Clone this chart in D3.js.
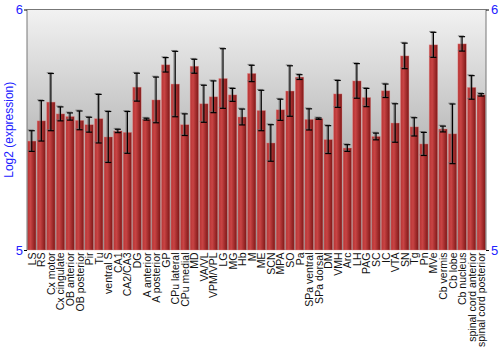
<!DOCTYPE html>
<html>
<head>
<meta charset="utf-8">
<script src="https://cdn.jsdelivr.net/npm/d3@7"></script>
<style>
body { margin: 0; background: #fff; }
svg { display: block; font-family: "Liberation Sans", Arial, sans-serif; }
</style>
</head>
<body>
<svg width="500" height="350"></svg>
<script>
// regions
var regions = ["LS", "RS", "Cx motor", "Cx cingulate", "OB anterior", "OB posterior", "Pir", "Tu",
  "ventral S", "CA1", "CA2/CA3", "DG", "A anterior", "A posterior", "GP", "CPu lateral",
  "CPu medial", "MD", "VA/VL", "VPM/VPL", "LG", "MG", "Hb", "M", "ME", "SCN", "MPA", "SO",
  "Pa", "SPa ventral", "SPa dorsal", "DM", "VMH", "Arc", "LH", "PAG", "SC", "IC", "VTA", "SN",
  "Tg", "Pn", "MVe", "Cb vermis", "Cb lobe", "Cb nucleus", "spinal cord anterior", "spinal cord posterior"];
// mean log2 expression
var values = [5.453, 5.537, 5.615, 5.566, 5.555, 5.539, 5.521, 5.546,
  5.470, 5.495, 5.489, 5.677, 5.544, 5.624, 5.770, 5.690,
  5.521, 5.764, 5.608, 5.637, 5.713, 5.645, 5.553, 5.734, 5.580, 5.445, 5.583, 5.661,
  5.719, 5.543, 5.546, 5.459, 5.649, 5.424, 5.703, 5.634, 5.472, 5.662, 5.528, 5.807,
  5.512, 5.441, 5.853, 5.503, 5.483, 5.857, 5.676, 5.645];
// error (half bar)
var errors = [0.043, 0.084, 0.119, 0.029, 0.015, 0.039, 0.031, 0.101,
  0.106, 0.007, 0.087, 0.058, 0.004, 0.095, 0.030, 0.136,
  0.045, 0.029, 0.077, 0.066, 0.124, 0.027, 0.033, 0.034, 0.084, 0.076, 0.044, 0.105,
  0.010, 0.044, 0.003, 0.058, 0.056, 0.014, 0.072, 0.038, 0.014, 0.028, 0.080, 0.053,
  0.038, 0.048, 0.052, 0.012, 0.124, 0.030, 0.049, 0.005];
var yTicks = [5, 6];

var pL = 27, pR = 486, pT = 9.5, pB = 250;

var xs = d3.scaleBand().domain(regions).range([pL, pR]).paddingInner(0.12).paddingOuter(0.06);
var ys = d3.scaleLinear().domain([5, 6]).range([pB, pT]);

var svg = d3.select('svg');
var defs = svg.append('defs');

var bg = defs.append('linearGradient').attr('id', 'bg').attr('x1', 0).attr('y1', 0).attr('x2', 0).attr('y2', 1);
bg.append('stop').attr('offset', '0%').attr('stop-color', '#f2f2f2');
bg.append('stop').attr('offset', '100%').attr('stop-color', '#8c8c8c');

var bar = defs.append('linearGradient').attr('id', 'bar').attr('x1', 0).attr('y1', 0).attr('x2', 1).attr('y2', 0);
bar.append('stop').attr('offset', '0%').attr('stop-color', '#b83434');
bar.append('stop').attr('offset', '35%').attr('stop-color', '#c84444');
bar.append('stop').attr('offset', '100%').attr('stop-color', '#7e1616');

svg.append('rect')
  .attr('x', pL).attr('y', pT)
  .attr('width', pR - pL).attr('height', pB - pT)
  .attr('fill', 'url(#bg)');

var g = svg.append('g');

g.selectAll('rect.bar')
  .data(values)
  .enter()
  .append('rect')
  .attr('class', 'bar')
  .attr('x', function(d, i) { return xs(regions[i]); })
  .attr('y', function(d) { return ys(d); })
  .attr('width', xs.bandwidth())
  .attr('height', function(d) { return ys(5) - ys(d); })
  .attr('fill', 'url(#bar)')
  .attr('stroke', 'rgba(230,140,140,0.6)')
  .attr('stroke-width', 0.6);

// error bars: gray shadow then black
function errBars(cls, dx, dy, col) {
  var eg = g.selectAll('g.' + cls)
    .data(values)
    .enter()
    .append('g')
    .attr('class', cls)
    .attr('transform', function(d, i) {
      return 'translate(' + (xs(regions[i]) + xs.bandwidth() / 2 + dx) + ',' + dy + ')';
    });
  eg.append('line')
    .attr('x1', 0).attr('x2', 0)
    .attr('y1', function(d, i) { return ys(d + errors[i]); })
    .attr('y2', function(d, i) { return ys(d - errors[i]); })
    .attr('stroke', col).attr('stroke-width', 1.2);
  eg.append('line')
    .attr('x1', -3).attr('x2', 3)
    .attr('y1', function(d, i) { return ys(d + errors[i]); })
    .attr('y2', function(d, i) { return ys(d + errors[i]); })
    .attr('stroke', col).attr('stroke-width', 1.2);
  eg.append('line')
    .attr('x1', -3).attr('x2', 3)
    .attr('y1', function(d, i) { return ys(d - errors[i]); })
    .attr('y2', function(d, i) { return ys(d - errors[i]); })
    .attr('stroke', col).attr('stroke-width', 1.2);
}
errBars('errs', -1.2, -0.8, 'rgba(110,110,110,0.7)');
errBars('err', 0, 0, '#000');

// frame
svg.append('line').attr('x1', pL).attr('x2', pR).attr('y1', pT).attr('y2', pT)
  .attr('stroke', '#777').attr('stroke-width', 1);
svg.append('line').attr('x1', pL).attr('x2', pL).attr('y1', pT).attr('y2', pB)
  .attr('stroke', '#777').attr('stroke-width', 1);
svg.append('line').attr('x1', pR).attr('x2', pR).attr('y1', pT).attr('y2', pB)
  .attr('stroke', '#777').attr('stroke-width', 1);

// y axes
var axL = svg.append('g')
  .attr('transform', 'translate(' + pL + ',0)')
  .call(d3.axisLeft(ys).tickValues(yTicks).tickSize(3).tickFormat(d3.format('d')));
var axR = svg.append('g')
  .attr('transform', 'translate(' + pR + ',0)')
  .call(d3.axisRight(ys).tickValues(yTicks).tickSize(3).tickFormat(d3.format('d')));
[axL, axR].forEach(function(a) {
  a.select('.domain').remove();
  a.selectAll('line').attr('stroke', '#000');
  a.selectAll('text').attr('fill', '#2222ff').style('font-size', '13px')
    .style('font-family', '"Liberation Sans", Arial, sans-serif');
});
axL.selectAll('text').attr('x', -4);
axR.selectAll('text').attr('x', 5);

svg.append('text')
  .attr('transform', 'translate(13,' + ((pT + pB) / 2) + ') rotate(-90)')
  .attr('text-anchor', 'middle')
  .attr('fill', '#2222ff')
  .style('font-size', '12px')
  .text('Log2 (expression)');

// x labels
svg.append('g')
  .selectAll('text')
  .data(regions)
  .enter()
  .append('text')
  .attr('transform', function(d) {
    return 'translate(' + (xs(d) + xs.bandwidth() / 2 + 4) + ',' + (pB + 2.5) + ') rotate(-90)';
  })
  .attr('text-anchor', 'end')
  .attr('fill', '#111')
  .style('font-size', '10.5px')
  .text(function(d) { return d; });
</script>
</body>
</html>
